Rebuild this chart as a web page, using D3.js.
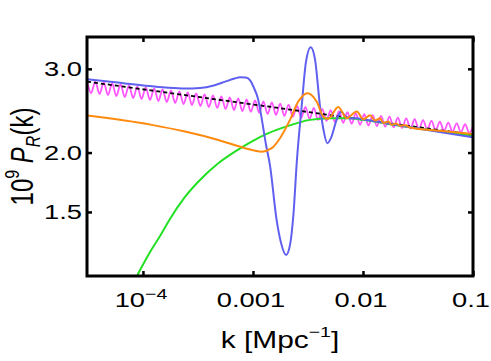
<!DOCTYPE html>
<html>
<head>
<meta charset="utf-8">
<script src="https://cdn.jsdelivr.net/npm/d3@7"></script>
<style>
  body { margin: 0; background: #fff; }
  text { font-family: "Liberation Sans", Arial, Helvetica, sans-serif; fill: #000; }
</style>
</head>
<body>
<div id="chart"></div>
<script>
const kDomain = [3.1e-5, 0.1];
const pDomain = [1.1, 3.5];

const kTicks = [1e-4, 1e-3, 1e-2, 1e-1];
const kTickLabels = [["10", "\u22124"], ["0.001"], ["0.01"], ["0.1"]];
const pTicks = [1.5, 2.0, 3.0];
const pTickLabels = ["1.5", "2.0", "3.0"];

// reference power law (black dashed)
const refK = [3.1e-5, 0.1];
const refP = [2.82, 2.18];

// blue curve
const blueK = [3.10e-5, 6.18e-5, 1.16e-4, 1.70e-4, 2.41e-4, 3.30e-4, 4.40e-4, 5.60e-4, 6.80e-4, 7.62e-4, 8.60e-4, 9.50e-4, 1.007e-3,
  1.117e-3, 1.21e-3, 1.31e-3, 1.43e-3, 1.64e-3, 1.80e-3, 2.0e-3, 2.17e-3, 2.33e-3, 2.51e-3,
  2.77e-3, 3.03e-3, 3.35e-3, 3.67e-3, 4.07e-3, 4.38e-3, 4.74e-3, 5.12e-3, 5.76e-3, 6.30e-3,
  7.0e-3, 7.9e-3, 8.77e-3, 1.0e-2, 2.17e-2, 5.0e-2, 0.1];
const blueP = [2.854, 2.803, 2.760, 2.738, 2.728, 2.735, 2.768, 2.820, 2.862, 2.880, 2.876, 2.830, 2.755,
  2.581, 2.332, 2.085, 1.875, 1.443, 1.291, 1.218, 1.278, 1.478, 1.930,
  2.499, 3.10, 3.33, 3.134, 2.499, 2.231, 2.092, 2.147, 2.343, 2.436,
  2.378, 2.359, 2.362, 2.350, 2.281, 2.208, 2.153];

// orange curve
const orangeK = [3.10e-5, 1.20e-4, 2.41e-4, 4.84e-4, 8.46e-4, 1.20e-3, 1.48e-3, 1.76e-3, 2.17e-3, 2.58e-3,
  3.13e-3, 3.79e-3, 4.36e-3, 4.84e-3, 5.96e-3, 7.11e-3, 8.77e-3, 1.01e-2, 1.16e-2, 1.29e-2,
  1.43e-2, 1.53e-2, 1.70e-2, 1.82e-2, 2.00e-2, 2.17e-2, 2.41e-2, 2.67e-2, 5.0e-2, 0.1];
const orangeP = [2.392, 2.287, 2.214, 2.126, 2.043, 2.009, 2.043, 2.144, 2.343, 2.560,
  2.667, 2.560, 2.380, 2.355, 2.495, 2.362, 2.439, 2.349, 2.395, 2.335,
  2.362, 2.309, 2.324, 2.287, 2.303, 2.276, 2.284, 2.258, 2.222, 2.189];

// green curve
const greenK = [7.6e-5, 8.82e-5, 1.16e-4, 1.43e-4, 1.76e-4, 2.41e-4, 3.42e-4, 4.84e-4, 6.86e-4, 9.72e-4,
  1.38e-3, 2.0e-3, 3.30e-3, 5.01e-3, 7.62e-3, 1.0e-2, 2.17e-2, 0.1];
const greenP = [1.03, 1.100, 1.235, 1.335, 1.450, 1.613, 1.766, 1.899, 2.009, 2.109,
  2.197, 2.268, 2.343, 2.362, 2.362, 2.343, 2.276, 2.168];

// magenta curve (oscillation peaks and troughs)
const magentaK = [3.10e-5, 3.38e-5, 3.69e-5, 4.03e-5, 4.40e-5, 4.81e-5, 5.25e-5, 5.73e-5, 6.26e-5, 6.83e-5,
  7.46e-5, 8.15e-5, 8.90e-5, 9.71e-5, 1.061e-4, 1.158e-4, 1.265e-4, 1.381e-4, 1.508e-4, 1.646e-4,
  1.798e-4, 1.963e-4, 2.143e-4, 2.340e-4, 2.556e-4, 2.790e-4, 3.047e-4, 3.327e-4, 3.633e-4, 3.967e-4,
  4.331e-4, 4.730e-4, 5.164e-4, 5.639e-4, 6.157e-4, 6.723e-4, 7.341e-4, 8.016e-4, 8.753e-4, 9.557e-4,
  1.044e-3, 1.140e-3, 1.244e-3, 1.359e-3, 1.484e-3, 1.620e-3, 1.769e-3, 1.931e-3, 2.109e-3, 2.303e-3,
  2.514e-3, 2.746e-3, 2.998e-3, 3.273e-3, 3.574e-3, 3.903e-3, 4.262e-3, 4.653e-3, 5.081e-3, 5.548e-3,
  6.058e-3, 6.615e-3, 7.223e-3, 7.887e-3, 8.612e-3, 9.403e-3, 1.027e-2, 1.121e-2, 1.224e-2, 1.337e-2,
  1.460e-2, 1.594e-2, 1.740e-2, 1.900e-2, 2.075e-2, 2.266e-2, 2.474e-2, 2.701e-2, 2.950e-2, 3.221e-2,
  3.517e-2, 3.840e-2, 4.193e-2, 4.578e-2, 4.999e-2, 5.459e-2, 5.960e-2, 6.508e-2, 7.106e-2, 7.760e-2,
  8.473e-2, 9.252e-2, 1.010e-1];
const magentaP = [2.835, 2.668, 2.821, 2.655, 2.808, 2.642, 2.794, 2.630, 2.781, 2.617,
  2.768, 2.605, 2.754, 2.592, 2.741, 2.580, 2.728, 2.567, 2.715, 2.555,
  2.702, 2.543, 2.689, 2.530, 2.676, 2.518, 2.663, 2.506, 2.650, 2.494,
  2.638, 2.482, 2.625, 2.470, 2.612, 2.458, 2.600, 2.446, 2.587, 2.435,
  2.575, 2.423, 2.562, 2.411, 2.549, 2.400, 2.536, 2.389, 2.522, 2.377,
  2.509, 2.366, 2.496, 2.354, 2.483, 2.343, 2.470, 2.332, 2.457, 2.321,
  2.444, 2.310, 2.431, 2.299, 2.418, 2.287, 2.408, 2.280, 2.398, 2.273,
  2.389, 2.267, 2.379, 2.260, 2.369, 2.253, 2.360, 2.247, 2.350, 2.240,
  2.341, 2.233, 2.331, 2.227, 2.322, 2.220, 2.313, 2.214, 2.303, 2.207,
  2.294, 2.201, 2.285];

const width = 491;
const height = 361;
const margin = {top: 37, right: 18, bottom: 85, left: 87};
const sx = 1.3; // text in the picture is drawn wide

const x = d3.scaleLog().domain(kDomain).range([margin.left, width - margin.right]);
const y = d3.scaleLog().domain(pDomain).range([height - margin.bottom, margin.top]);

const svg = d3.select("#chart").append("svg")
  .attr("width", width)
  .attr("height", height)
  .attr("viewBox", [0, 0, width, height]);

svg.append("defs").append("clipPath")
  .attr("id", "plot-clip")
  .append("rect")
  .attr("x", margin.left)
  .attr("y", margin.top)
  .attr("width", width - margin.left - margin.right)
  .attr("height", height - margin.top - margin.bottom);

const line = d3.line()
  .x(d => x(d[0]))
  .y(d => y(d[1]))
  .curve(d3.curveMonotoneX);

const zip = (ks, ps) => ks.map((k, i) => [k, ps[i]]);

const curves = [
  {data: zip(magentaK, magentaP), color: "#ff55ff", width: 1.8},
  {data: zip(refK, refP), color: "#000", width: 1.8, dash: "4,3"},
  {data: zip(greenK, greenP), color: "#22e022", width: 2},
  {data: zip(blueK, blueP), color: "#6060f0", width: 2},
  {data: zip(orangeK, orangeP), color: "#ff8a0d", width: 2},
];

svg.append("g")
  .attr("clip-path", "url(#plot-clip)")
  .selectAll("path")
  .data(curves)
  .join("path")
    .attr("d", d => line(d.data))
    .attr("fill", "none")
    .attr("stroke", d => d.color)
    .attr("stroke-width", d => d.width)
    .attr("stroke-dasharray", d => d.dash || null)
    .attr("stroke-linejoin", "round");

// ticks on all four sides, pointing in
const tickLen = 5;
const axes = [
  {axis: d3.axisBottom(x).tickValues(kTicks), t: `translate(0,${height - margin.bottom})`},
  {axis: d3.axisTop(x).tickValues(kTicks), t: `translate(0,${margin.top})`},
  {axis: d3.axisLeft(y).tickValues(pTicks), t: `translate(${margin.left},0)`},
  {axis: d3.axisRight(y).tickValues(pTicks), t: `translate(${width - margin.right},0)`},
];
axes.forEach(a => {
  svg.append("g")
    .attr("transform", a.t)
    .call(a.axis.tickSizeInner(-tickLen).tickSizeOuter(0).tickFormat(""))
    .call(g => g.select(".domain").remove())
    .call(g => g.selectAll(".tick line").attr("stroke", "#000").attr("stroke-width", 2.5));
});

svg.append("rect")
  .attr("x", margin.left)
  .attr("y", margin.top)
  .attr("width", width - margin.left - margin.right)
  .attr("height", height - margin.top - margin.bottom)
  .attr("fill", "none")
  .attr("stroke", "#000")
  .attr("stroke-width", 3);

// x tick labels
svg.append("g")
  .selectAll("text")
  .data(kTicks)
  .join("text")
    .attr("transform", d => `translate(${x(d) - 2},${height - margin.bottom + 31}) scale(${sx},1)`)
    .attr("text-anchor", "middle")
    .attr("font-size", 21)
    .each(function(d, i) {
      const parts = kTickLabels[i];
      const t = d3.select(this);
      t.append("tspan").text(parts[0]);
      if (parts[1]) {
        t.append("tspan").attr("font-size", 15).attr("dy", -8).text(parts[1]);
      }
    });

// y tick labels
svg.append("g")
  .selectAll("text")
  .data(pTicks)
  .join("text")
    .attr("transform", d => `translate(${margin.left - 5},${y(d) + 7.5}) scale(${sx},1)`)
    .attr("text-anchor", "end")
    .attr("font-size", 21)
    .text((d, i) => pTickLabels[i]);

// x axis title
const xt = svg.append("text")
  .attr("transform", `translate(${(margin.left + width - margin.right) / 2},348) scale(${sx},1)`)
  .attr("text-anchor", "middle")
  .attr("font-size", 23);
xt.append("tspan").text("k [Mpc");
xt.append("tspan").attr("font-size", 15).attr("dy", -11).text("\u22121");
xt.append("tspan").attr("dy", 11).text("]");

// y axis title
const yt = svg.append("text")
  .attr("transform", `translate(33,${(margin.top + height - margin.bottom) / 2}) scale(${sx},1) rotate(-90)`)
  .attr("text-anchor", "middle")
  .attr("font-size", 24);
yt.append("tspan").text("10");
yt.append("tspan").attr("font-size", 16).attr("dy", -11).text("9");
yt.append("tspan").attr("dy", 11).text(" ");
yt.append("tspan").attr("font-style", "italic").text("P");
yt.append("tspan").attr("font-style", "italic").attr("font-size", 16).attr("dy", 5).text("R");
yt.append("tspan").attr("dy", -5).text("(k)");
</script>
</body>
</html>
